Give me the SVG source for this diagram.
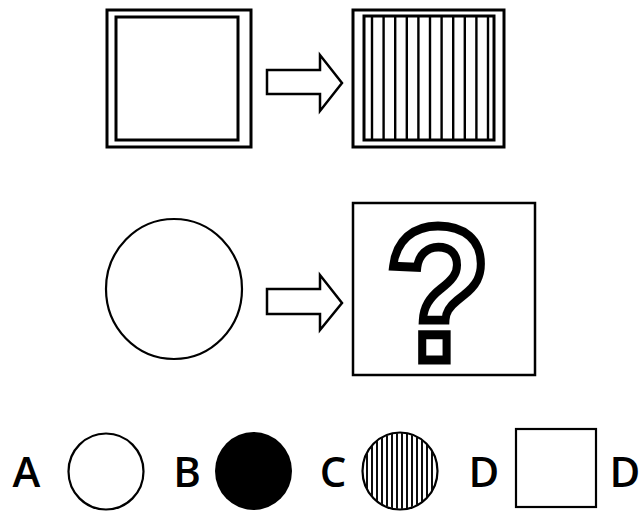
<svg xmlns="http://www.w3.org/2000/svg" width="641" height="512" viewBox="0 0 641 512">
<style>
.o{fill:none;stroke:#000;stroke-width:3}
.t{fill:none;stroke:#000;stroke-width:2.2}
.h{stroke:#000;stroke-width:2.4}
.h2{stroke:#000;stroke-width:1.9}
.arr{fill:#fff;stroke:#000;stroke-width:2.5;stroke-linejoin:miter}
.lbl{font-family:"Open Sans","Liberation Sans",sans-serif;font-weight:600;font-size:42px;fill:#000}
</style>
<defs>
<clipPath id="cc"><ellipse cx="400" cy="471" rx="37" ry="38"/></clipPath>
</defs>
<rect width="641" height="512" fill="#fff"/>
<g id="sq1">
<rect class="o" x="107" y="10" width="144" height="137"/>
<rect class="o" x="116" y="17" width="122" height="123"/>
</g>
<g id="sq2">
<rect class="o" x="353" y="10" width="151" height="137"/>
<rect class="o" x="364" y="16" width="130" height="124"/>
<g class="h">
<line x1="372" y1="16" x2="372" y2="140"/>
<line x1="383.6" y1="16" x2="383.6" y2="140"/>
<line x1="395.2" y1="16" x2="395.2" y2="140"/>
<line x1="406.8" y1="16" x2="406.8" y2="140"/>
<line x1="418.4" y1="16" x2="418.4" y2="140"/>
<line x1="430" y1="16" x2="430" y2="140"/>
<line x1="441.6" y1="16" x2="441.6" y2="140"/>
<line x1="453.2" y1="16" x2="453.2" y2="140"/>
<line x1="464.8" y1="16" x2="464.8" y2="140"/>
<line x1="476.4" y1="16" x2="476.4" y2="140"/>
<line x1="488" y1="16" x2="488" y2="140"/>
</g>
</g>
<g id="circle1">
<ellipse class="t" cx="174" cy="289" rx="68" ry="70"/>
</g>
<g id="qbox">
<rect class="o" x="353" y="203" width="182" height="172" style="stroke-width:2.5"/>
<text x="0" y="0" transform="translate(438,360) scale(0.9,1)" text-anchor="middle" font-family="'Liberation Sans',Arial,sans-serif" font-weight="700" font-size="192" fill="#fff" stroke="#000" stroke-width="9" stroke-linejoin="miter">?</text>
</g>
<g id="connectors">
<polygon class="arr" points="267,70 320,70 320,55 342,83 320,111 320,94 267,94"/>
<polygon class="arr" points="267,289 320,289 320,275 342,303 320,330 320,314 267,314"/>
</g>
<g id="optA">
<text class="lbl" x="26.5" y="487" text-anchor="middle">A</text>
<ellipse class="t" cx="106" cy="471.5" rx="37.5" ry="38"/>
</g>
<g id="optB">
<text class="lbl" x="187" y="487" text-anchor="middle">B</text>
<ellipse cx="253.5" cy="471" rx="38.5" ry="39" fill="#000"/>
</g>
<g id="optC">
<text class="lbl" x="333" y="487" text-anchor="middle">C</text>
<g clip-path="url(#cc)" class="h2">
<line x1="367" y1="430" x2="367" y2="512"/>
<line x1="372" y1="430" x2="372" y2="512"/>
<line x1="377" y1="430" x2="377" y2="512"/>
<line x1="382" y1="430" x2="382" y2="512"/>
<line x1="387" y1="430" x2="387" y2="512"/>
<line x1="392" y1="430" x2="392" y2="512"/>
<line x1="397" y1="430" x2="397" y2="512"/>
<line x1="402" y1="430" x2="402" y2="512"/>
<line x1="407" y1="430" x2="407" y2="512"/>
<line x1="412" y1="430" x2="412" y2="512"/>
<line x1="417" y1="430" x2="417" y2="512"/>
<line x1="422" y1="430" x2="422" y2="512"/>
<line x1="427" y1="430" x2="427" y2="512"/>
<line x1="432" y1="430" x2="432" y2="512"/>
</g>
<ellipse class="t" cx="400" cy="471" rx="37.5" ry="38.5"/>
</g>
<g id="optD">
<text class="lbl" x="484" y="487" text-anchor="middle">D</text>
<rect class="t" x="516" y="429" width="80" height="78"/>
</g>
<g id="optD2">
<text class="lbl" x="625" y="487" text-anchor="middle">D</text>
</g>
</svg>
